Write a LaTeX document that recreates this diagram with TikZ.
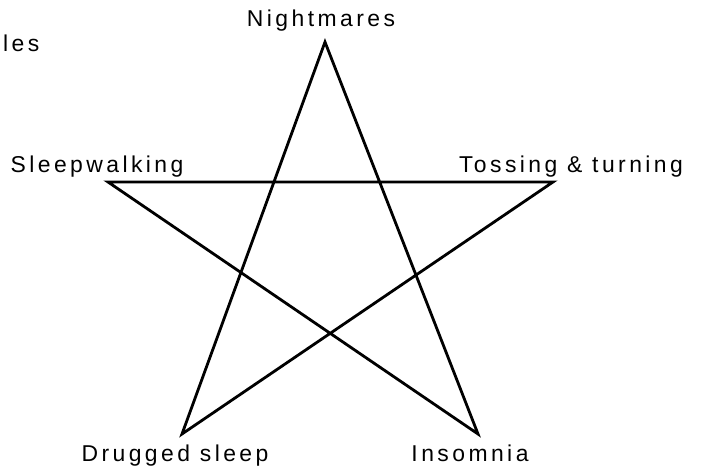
\documentclass[tikz,border=0pt]{standalone}
\usepackage{fontspec}
\setmainfont[LetterSpace=15]{Liberation Sans}
\tikzset{lbl/.style={anchor=base,inner sep=0pt,font=\fontsize{23}{26}\selectfont}}
\begin{document}
\begin{tikzpicture}[x=1bp,y=-1bp]
                        \useasboundingbox (0,0) rectangle (701,470);
                        \coordinate (nm) at (325,42);
                        \coordinate (sw) at (108,182);
                        \coordinate (tt) at (553,182);
                        \coordinate (ds) at (182,434);
                        \coordinate (in) at (478,434);
                        \draw[-,line width=2.8bp,line join=miter] (nm) -- (ds) -- (tt) -- (sw) -- (in) -- cycle;

                        \node[lbl,anchor=base west] (les) at (3,52) {les};
                        \node[lbl] (nmtext) at (321,27) {Nightmares};
                        \node[lbl] (swtext) at (97,173) {Sleepwalking};
                        \node[lbl] (tttext) at (571,173) {Tossing \& turning};
                        \node[lbl] (dstext) at (175,461) {Drugged sleep};
                        \node[lbl] (intext) at (470,461) {Insomnia};
                    \end{tikzpicture}
\end{document}
